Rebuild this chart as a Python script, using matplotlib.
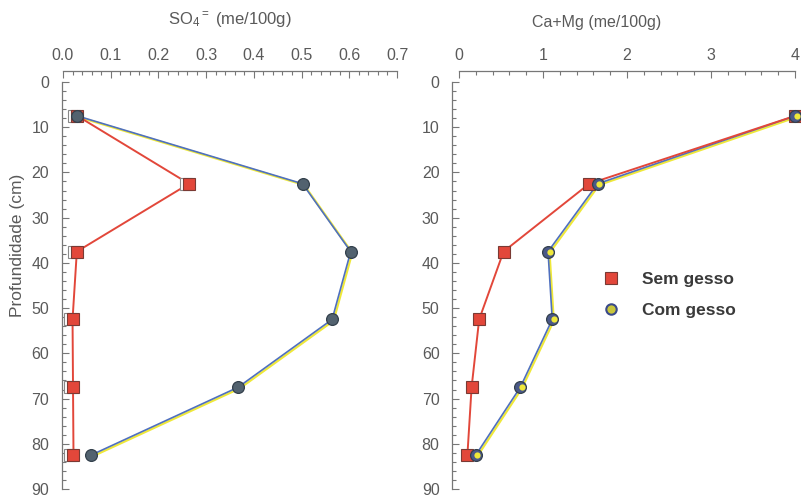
import numpy as np
import matplotlib
matplotlib.use("Agg")
import matplotlib.pyplot as plt
from matplotlib.lines import Line2D
from matplotlib.ticker import MultipleLocator
from matplotlib.transforms import offset_copy

plt.rcParams["font.family"] = ["Liberation Sans", "DejaVu Sans"]
plt.rcParams["mathtext.fontset"] = "custom"
plt.rcParams["mathtext.rm"] = "Liberation Sans"
plt.rcParams["mathtext.it"] = "Liberation Sans"

# ── data ────────────────────────────────────────────────────────────────────
depth = [7.5, 22.5, 37.5, 52.5, 67.5, 82.5]
so4_sem = [0.03, 0.264, 0.029, 0.020, 0.021, 0.022]
so4_com = [0.03, 0.502, 0.603, 0.564, 0.367, 0.059]
camg_sem = [4.0, 1.55, 0.53, 0.24, 0.15, 0.10]
camg_com = [4.0, 1.65, 1.06, 1.11, 0.73, 0.20]

RED = "#e2473a"
BLUE = "#4f70bf"
YELLOW = "#efe83a"
GREY = "#5a5a5a"

W, H = 801, 497
fig = plt.figure(figsize=(W / 100, H / 100), dpi=100)


def _axes(x0, x1, y_top=82, y_bot=489):
    return fig.add_axes([x0 / W, 1 - y_bot / H, (x1 - x0) / W, (y_bot - y_top) / H])


def _style(ax, xmax, xmajor, xminor, fmt, left_out):
    ax.set_xlim(0, xmax)
    ax.set_ylim(90, 0)
    for s in ("right", "bottom"):
        ax.spines[s].set_visible(False)
    ax.spines["top"].set_position(("outward", 8))
    ax.spines["left"].set_position(("outward", left_out))
    for s in ("top", "left"):
        ax.spines[s].set_color("#777777")
        ax.spines[s].set_linewidth(0.9)
    ax.xaxis.set_ticks_position("top")
    ax.xaxis.set_major_locator(MultipleLocator(xmajor))
    ax.xaxis.set_minor_locator(MultipleLocator(xminor))
    ax.xaxis.set_major_formatter(fmt)
    ax.yaxis.set_major_locator(MultipleLocator(10))
    ax.yaxis.set_minor_locator(MultipleLocator(2))
    ax.tick_params(which="both", direction="in", colors="#777777",
                   labelcolor=GREY, labelsize=11.5, width=0.8)
    ax.tick_params(which="major", length=5)
    ax.tick_params(which="minor", length=3)
    ax.tick_params(axis="x", pad=6)
    ax.tick_params(axis="y", pad=9)
    ax.patch.set_alpha(0)


def _series(ax, x_sem, x_com, circle_face, circle_yellow, shadow):
    sh = offset_copy(ax.transData, fig=fig, x=1.5, y=-1.2, units="dots")
    ax.plot(x_com, depth, color=YELLOW, lw=1.6, transform=sh, zorder=2)
    ax.plot(x_com, depth, color=BLUE, lw=1.2, zorder=3)
    ax.plot(x_sem, depth, color=RED, lw=1.4, zorder=3)
    if shadow:  # squares with a white "shadow"
        wsq = offset_copy(ax.transData, fig=fig, x=-3, y=0, units="dots")
        ax.plot(x_sem, depth, "s", ms=8, mfc="white", mec="#888888", mew=0.8,
                ls="none", transform=wsq, zorder=4)
    ax.plot(x_sem, depth, "s", ms=8, mfc=RED, mec="#7a3a34", mew=0.8,
            ls="none", zorder=5)
    ax.plot(x_com, depth, "o", ms=8.5, mfc=circle_face, mec="#33404c", mew=0.9,
            ls="none", zorder=6)
    if circle_yellow:
        yo = offset_copy(ax.transData, fig=fig, x=1.5, y=0, units="dots")
        ax.plot(x_com, depth, "o", ms=4.5, mfc=YELLOW, mec="none",
                ls="none", transform=yo, zorder=7)


ax1 = _axes(63, 397)
_style(ax1, 0.7, 0.1, 0.02, "{x:.1f}", 1)
_series(ax1, so4_sem, so4_com, "#52626f", False, True)

ax2 = _axes(459, 795)
_style(ax2, 4, 1, 0.2, "{x:.0f}", 5)
_series(ax2, camg_sem, camg_com, "#4a5888", True, False)
for a in (ax1, ax2):
    for ln in a.get_lines():
        ln.set_clip_on(False)

fig.text(230 / W, 1 - 20 / H, r"SO$_4$$^{=}$ (me/100g)", ha="center", va="center",
         fontsize=12, color=GREY)
fig.text(597 / W, 1 - 22 / H, "Ca+Mg (me/100g)", ha="center", va="center",
         fontsize=11.5, color=GREY)
fig.text(18 / W, 1 - 245 / H, "Profundidade (cm)", rotation=90, ha="center",
         va="center", fontsize=12.5, color=GREY)

# legend
h_sem = Line2D([], [], marker="s", ls="none", ms=8, mfc=RED, mec="#7a3a34", mew=0.8)
h_com = Line2D([], [], marker="o", ls="none", ms=7.5, mfc="#c9c63c", mec="#3a4a8a", mew=1.5)
leg = ax2.legend([h_sem, h_com], ["Sem gesso", "Com gesso"], loc="upper left",
                 bbox_to_anchor=(585 / W, 1 - 256 / H), bbox_transform=fig.transFigure,
                 frameon=False, handlelength=1.2, handletextpad=1.2,
                 labelspacing=0.95, prop={"size": 12.5, "weight": "bold"})
for t in leg.get_texts():
    t.set_color("#3a3a3a")

fig.savefig("out.png", dpi=100)
